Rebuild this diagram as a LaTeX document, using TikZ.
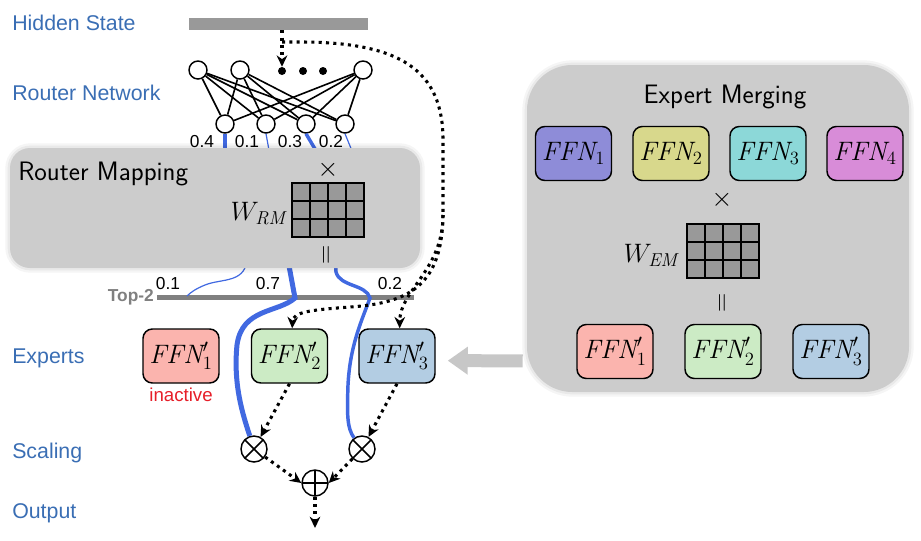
\RequirePackage{fix-cm}
\documentclass[tikz,border=0pt]{standalone}
\usepackage{fontspec}
\newfontfamily\labelfont{Liberation Sans}
\usetikzlibrary{arrows.meta,positioning}

\definecolor{labelblue}{RGB}{58,110,180}
\definecolor{wblue}{RGB}{65,105,225}
\definecolor{inactred}{RGB}{230,30,40}
\definecolor{ffnA}{RGB}{251,180,174}
\definecolor{ffnB}{RGB}{204,235,197}
\definecolor{ffnC}{RGB}{179,205,227}
\definecolor{mixA}{RGB}{142,140,216}
\definecolor{mixB}{RGB}{216,216,140}
\definecolor{mixC}{RGB}{140,216,216}
\definecolor{mixD}{RGB}{216,140,216}

\begin{document}
\begin{tikzpicture}[x=0.75pt, y=-0.75pt,
    % --- Styles ---
    row label/.style={font=\labelfont\fontsize{16}{19}\selectfont, text=labelblue, anchor=base west, inner sep=0pt},
    weight label/.style={font=\labelfont\fontsize{13}{15}\selectfont, anchor=base, inner sep=0pt},
    % Neurons of the router network
    neuron/.style={circle, draw, line width=1.1pt, fill=white, minimum size=13.5pt, inner sep=0pt},
    dot node/.style={circle, fill, minimum size=6pt, inner sep=0pt},
    % Grey panels with a soft halo
    panel/.style={fill=black!20, inner sep=0pt,
        preaction={draw=black, opacity=0.04, line width=7pt},
        preaction={draw=black, opacity=0.05, line width=3.5pt}},
    panel title/.style={font=\sffamily\fontsize{20}{24}\selectfont, inner sep=0pt},
    ffn box/.style={draw, line width=1.1pt, rounded corners=7pt, minimum width=57pt,
        minimum height=40.5pt, inner sep=0pt, font=\fontsize{20}{24}\selectfont},
    cell/.style={draw, fill=black!40, line width=0.9pt, minimum size=13.5pt, inner sep=0pt},
    big math/.style={font=\fontsize{20}{24}\selectfont, inner sep=0pt},
    % Scaling and summing circles
    op node/.style={circle, draw, line width=1.1pt, fill=white, minimum size=19.5pt, inner sep=0pt},
    times node/.style={op node, path picture={
        \draw[line width=1.1pt] (path picture bounding box.south west) -- (path picture bounding box.north east)
            (path picture bounding box.north west) -- (path picture bounding box.south east);}},
    plus node/.style={op node, path picture={
        \draw[line width=1.1pt] (path picture bounding box.north) -- (path picture bounding box.south)
            (path picture bounding box.west) -- (path picture bounding box.east);}},
    flow line/.style={line width=2.3pt, dash pattern=on 2.3pt off 3.2pt},
    flow arrow/.style={flow line, -{Stealth[length=8.5pt, width=8pt, inset=2.8pt]}},
    weight line/.style={draw=wblue},
    merge arrow/.style={draw=black!22, line width=9.75pt, -{Triangle[length=15pt, width=20pt]}}
]

%================CONFIGURATION================
% one unit is one pixel of the 921 x 540 page
\def\expy{356}
\def\mixy{153.5}
\def\outy{351.5}
%=============================================
\useasboundingbox (0,0) rectangle (921,540);

% --- Row labels ---
\foreach \txt/\y [count=\c] in {Hidden State/30, Router Network/100, Experts/363, Scaling/458, Output/518}
    \node[row label] (lab\c) at (12,\y) {\txt};

% --- Hidden state and router network ---
\node[fill=black!40, minimum width=134.25pt, minimum height=9pt, inner sep=0pt] (hid) at (278.5,24) {};

\foreach \x [count=\c] in {198, 240, 363}
    \node[neuron] (u\c) at (\x,70) {};
\foreach \x [count=\c] in {282, 303, 323}
    \node[dot node] (e\c) at (\x,71) {};
\foreach \x [count=\c] in {225, 266, 306, 345}
    \node[neuron] (b\c) at (\x,124) {};

\foreach \u in {u1,u2,u3}
    \foreach \b in {b1,b2,b3,b4}
        \draw[line width=1.2pt] (\u) -- (\b);

\foreach \v/\x [count=\c] in {0.4/202, 0.1/247, 0.3/290, 0.2/331}
    \node[weight label] (rw\c) at (\x,147) {\v};

% weights run down behind the router mapping panel
\foreach \b/\dx/\w in {b1/0/3.5pt, b2/4/0.9pt, b3/13/2.6pt, b4/9/0.9pt}
    \draw[weight line, line width=\w] (\b.south) -- ++(\dx,22);

% --- Top-2 selection ---
\node[fill=black!50, minimum width=192.75pt, minimum height=3.75pt, inner sep=0pt] (topk) at (285.5,297) {};
\node[font=\labelfont\bfseries\fontsize{13}{15}\selectfont, text=black!50, inner sep=0pt, left=2pt of topk] (topklab) {Top-2};

\foreach \v/\x [count=\c] in {0.1/168, 0.7/268, 0.2/390}
    \node[weight label] (tw\c) at (\x,289) {\v};

% --- Experts and scaling ---
\foreach \x/\col [count=\c] in {181/ffnA, 289.5/ffnB, 397/ffnC}
    \node[ffn box, fill=\col] (x\c) at (\x,\expy) {$\mathit{FFN}'_{\c}$};
\node[font=\labelfont\fontsize{14}{16}\selectfont, text=inactred, inner sep=0pt, below=3pt of x1] (inact) {inactive};

\node[times node] (m1) at (254,449) {};
\node[times node] (m2) at (362,449) {};
\node[plus node] (sum) at (315,483) {};
\coordinate (out) at (315,528);

% routing weights that survive the top-2
\draw[weight line, line width=0.9pt] (247,255) .. controls (248,284) and (222,278) .. (205,285)
    .. controls (195,289) and (190,293) .. (187,296);
\draw[weight line, line width=3.75pt] (287,255) -- (295,298) .. controls (278,313) and (242,308) .. (237,345)
    .. controls (233,385) and (243,415) .. (m1);
\draw[weight line, line width=2.6pt] (335,255) -- (336,272) .. controls (340,287) and (366,284) .. (370,298)
    .. controls (362,320) and (350,345) .. (348,385) .. controls (347,415) and (347,428) .. (m2);

% --- Router mapping panel ---
\node[panel, rounded corners=15pt, minimum width=307.5pt, minimum height=90pt] (rm) at (215,208) {};
\node[panel title, anchor=base west] (rmtitle) at (18,180) {Router Mapping};

% --- Expert merging panel ---
\node[panel, rounded corners=34pt, minimum width=286.5pt, minimum height=245.25pt] (em) at (718,228.5) {};
\node[panel title, anchor=base] (emtitle) at (725,103) {Expert Merging};

\foreach \x/\col [count=\c] in {573.5/mixA, 671/mixB, 768/mixC, 865/mixD}
    \node[ffn box, fill=\col] (f\c) at (\x,\mixy) {$\mathit{FFN}_{\c}$};
\foreach \x/\col [count=\c] in {615/ffnA, 723/ffnB, 831/ffnC}
    \node[ffn box, fill=\col] (g\c) at (\x,\outy) {$\mathit{FFN}'_{\c}$};

% --- Weight matrices ---
\foreach \gx/\gy/\nm in {292/183/rm, 687/224/em}
    \foreach \col in {0,...,3}
        \foreach \row in {0,...,2}
            \node[cell] (\nm g\row\col) at ({\gx+9+\col*18}, {\gy+9+\row*18}) {};

\node[big math, anchor=base east] (wrm) at (286,220) {$W_{\mathit{RM}}$};
\node[big math] (rmx) at (328,170) {$\times$};
\node[big math, rotate=90] (rmeq) at (328,255) {$=$};

\node[big math, anchor=base east] (wem) at (678,262) {$W_{\mathit{EM}}$};
\node[big math] (emx) at (722,200) {$\times$};
\node[big math, rotate=90] (emeq) at (724,303) {$=$};

% --- Token flow ---
\coordinate (fork) at (282,42);
\coordinate (split) at (443,215);
\draw[flow arrow] (hid.south -| e1) -- (e1);
\draw[flow line] (fork) -- (300,42) .. controls (400,42) and (443,70) .. (443,140) -- (split);
\draw[flow arrow] (split) .. controls (443,270) and (400,290) .. ([xshift=2pt]x3.north);
\draw[flow arrow] (split) .. controls (442,285) and (410,303) .. (350,307)
    .. controls (310,310) and (293,312) .. ([xshift=2pt]x2.north);

\draw[flow arrow] (x2.south) -- (m1);
\draw[flow arrow] (x3.south) -- (m2);
\draw[flow arrow] (m1) -- (sum.west);
\draw[flow arrow] (m2) -- (sum.east);
\draw[flow arrow] (sum) -- (out);

% merged experts replace the originals
\draw[merge arrow] ([xshift=-3pt, yshift=-7pt]em.west |- g1.west) -- ([xshift=9pt, yshift=-3.5pt]x3.east);

\end{tikzpicture}
\end{document}
